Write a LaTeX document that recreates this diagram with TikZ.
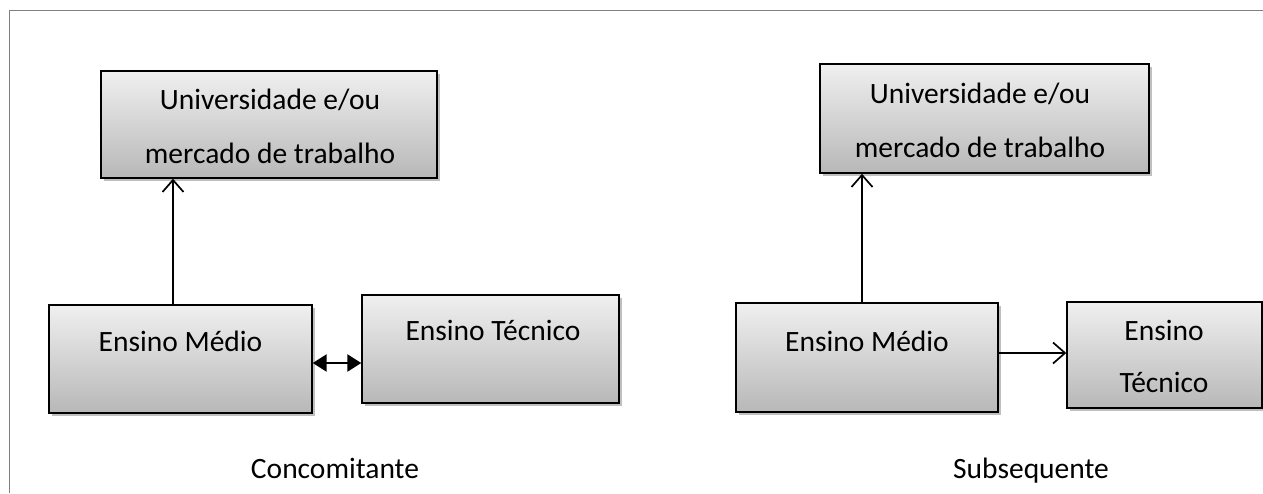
\documentclass[tikz,border=0pt]{standalone}
\usepackage{fontspec}
\setmainfont{Carlito}
\usetikzlibrary{arrows.meta,shadows}
\begin{document}
\begin{tikzpicture}[x=1pt,y=1pt,
  box/.style={draw=black, line width=1.4pt, rectangle, inner sep=0pt,
    top color=black!6, bottom color=black!28,
    drop shadow={shadow xshift=3pt, shadow yshift=-3pt, opacity=0.25, fill=black}},
  lbl/.style={inner sep=0pt, anchor=base, font=\fontsize{29.5}{34}\selectfont},
  conn/.style={line width=1.7pt, draw=black},
  openarrow/.style={conn, -{Straight Barb[length=12pt,width=21pt,line width=1.7pt]}},
  dblarrow/.style={line width=2.5pt, draw=black,
    {Triangle[length=14pt,width=17pt]}-{Triangle[length=14pt,width=17pt]}}
]
\useasboundingbox (0,0) rectangle (1263,-493);
\fill[white] (0,0) rectangle (1263,-493);
% frame
\draw[black!50, line width=1pt] (9,-493) -- (9,-10) -- (1263,-10);

% left diagram
\node[box, minimum width=336pt, minimum height=107pt] (u1) at (269,-124.5) {};
\node[box, minimum width=263pt, minimum height=108pt] (em1) at (180.5,-359) {};
\node[box, minimum width=257pt, minimum height=108pt] (et1) at (490.5,-349) {};
\node[lbl] (u1a) at (270,-109) {Universidade e/ou};
\node[lbl] (u1b) at (270,-163) {mercado de trabalho};
\node[lbl] (em1t) at (180.5,-351) {Ensino Médio};
\node[lbl] (et1t) at (493,-340) {Ensino Técnico};
\node[lbl] (lab1) at (335,-478) {Concomitante};

% right diagram
\node[box, minimum width=329pt, minimum height=109pt] (u2) at (984.5,-118.5) {};
\node[box, minimum width=262pt, minimum height=109pt] (em2) at (867,-357.5) {};
\node[box, minimum width=195pt, minimum height=106pt] (et2) at (1164.5,-355) {};
\node[lbl] (u2a) at (980,-103) {Universidade e/ou};
\node[lbl] (u2b) at (980,-157) {mercado de trabalho};
\node[lbl] (em2t) at (867,-351) {Ensino Médio};
\node[lbl] (et2a) at (1164,-340) {Ensino};
\node[lbl] (et2b) at (1164,-392) {Técnico};
\node[lbl] (lab2) at (1031,-478) {Subsequente};

% connector guides
\coordinate (c1) at (173,0);
\coordinate (c2) at (862,0);
\coordinate (c3) at (0,-363);
\coordinate (c4) at (0,-353);

\draw[openarrow] (em1.north -| c1) -- (u1.south -| c1);
\draw[dblarrow] (em1.east |- c3) -- (et1.west |- c3);
\draw[openarrow] (em2.north -| c2) -- (u2.south -| c2);
\draw[openarrow] (em2.east |- c4) -- (et2.west |- c4);
\end{tikzpicture}
\end{document}
